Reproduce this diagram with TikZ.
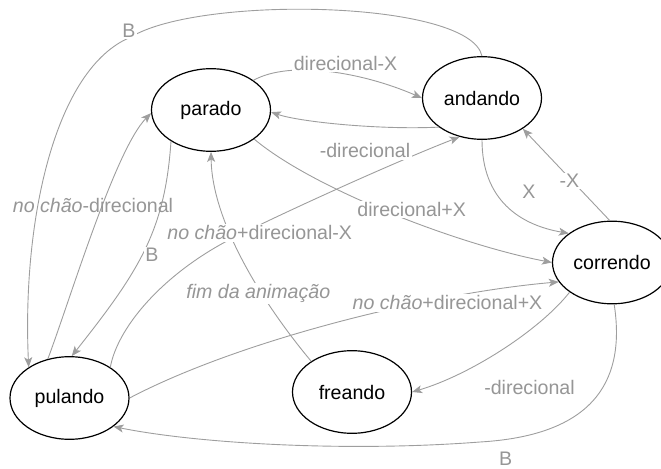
\documentclass[tikz,border=0pt]{standalone}
\usepackage{fontspec}
\setmainfont{Liberation Sans}
\usetikzlibrary{arrows.meta,shapes.geometric}
\definecolor{edgegray}{RGB}{158,158,158}
\definecolor{labelgray}{RGB}{150,150,150}

\begin{document}
\begin{tikzpicture}[x=1bp,y=-1bp,
  state/.style={ellipse, draw=black, line width=1.2bp, minimum width=119bp,
    minimum height=82.6bp, inner sep=0pt, text=black,
    font=\fontsize{19.6bp}{23bp}\selectfont},
  trans/.style={draw=edgegray, line width=0.9bp,
    -{Stealth[length=10bp,width=8bp,inset=2.5bp]}},
  lbl/.style={text=labelgray, font=\fontsize{19.6bp}{23bp}\selectfont,
    anchor=base, inner sep=1.5bp, fill=white},
  lblclear/.style={lbl, fill=none, inner sep=0pt}
]
\useasboundingbox (0,0) rectangle (661,469);

% states
\node[state] (parado)   at (211,110)   {parado};
\node[state] (andando)  at (482,98)    {andando};
\node[state] (correndo) at (612,262.5) {correndo};
\node[state] (pulando)  at (69.5,398)  {pulando};
\node[state] (freando)  at (352,392)   {freando};

% points the long curves pass through
\coordinate (v-ap) at (131,37);
\coordinate (v-pa) at (243,233);
\coordinate (v-cp) at (480,442);

% transitions
\draw[trans] (parado.35) .. controls (290,60) and (362,72) .. (andando.180);
\draw[trans] (andando.214) .. controls (380,130) and (300,122) .. (parado.358);
\draw[trans] (parado.326) .. controls (315,190) and (460,245) .. (correndo.180);
\draw[trans] (andando.270) .. controls (482,200) and (520,225) .. (correndo.146);
\draw[trans] (correndo.93) -- (andando.323);
\draw[trans] (pulando.119) .. controls (70,300) and (115,150) .. (parado.183);
\draw[trans] (parado.218) .. controls (165,230) and (140,270) .. (pulando.87);
\draw[trans] (pulando.37) .. controls (118,325) and (168,268) .. (v-pa)
                          .. controls (300,205) and (400,160) .. (andando.240);
\draw[trans] (freando.143) .. controls (260,300) and (212,220) .. (parado.270);
\draw[trans] (pulando.0) .. controls (240,340) and (430,293) .. (correndo.200);
\draw[trans] (correndo.215) .. controls (540,330) and (470,375) .. (freando.0);
\draw[trans] (correndo.273) .. controls (625,375) and (600,435) .. (v-cp)
                            .. controls (350,452) and (200,444) .. (pulando.327);
\draw[trans] (andando.90) .. controls (470,0) and (200,-5) .. (v-ap)
                          .. controls (55,68) and (22,220) .. (pulando.143);

% transition labels
\node[lbl] (l-b1)    at (129,38)      {B};
\node[lbl] (l-dmx)   at (345.5,70.5)  {direcional-X};
\node[lbl] (l-md1)   at (365,158)     {-direcional};
\node[lbl] (l-dpx)   at (411.7,216.7) {direcional+X};
\node[lbl] (l-x)     at (529,199)     {X};
\node[lbl] (l-mx)    at (569.5,188)   {-X};
\node[lblclear] (l-ncmd) at (93,213)  {\textit{no chão}-direcional};
\node[lbl] (l-b2)    at (152,261.7)   {B};
\node[lbl] (l-ncdmx) at (259.7,240)   {\textit{no chão}+direcional-X};
\node[lbl] (l-fim)   at (258.3,298.3) {\textit{fim da animação}};
\node[lbl] (l-ncdpx) at (447.5,310)   {\textit{no chão}+direcional+X};
\node[lbl] (l-md2)   at (529.5,394)   {-direcional};
\node[lblclear] (l-b3) at (505.7,465.5) {B};
\end{tikzpicture}
\end{document}
